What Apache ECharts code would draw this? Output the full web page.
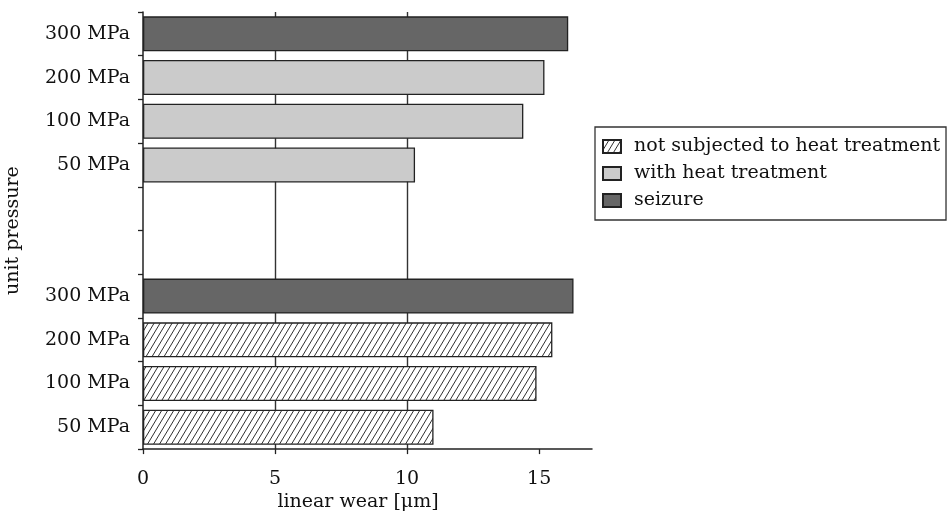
<!DOCTYPE html>
<html><head><meta charset="utf-8">
<script src="https://cdn.jsdelivr.net/npm/echarts@6/dist/echarts.min.js"></script>
<style>html,body{margin:0;padding:0;background:#fff}#c{width:952px;height:517px}</style>
</head><body><div id="c"></div>
<script>
// bottom-to-top categories
const yLabels = ['50 MPa','100 MPa','200 MPa','300 MPa','','','50 MPa','100 MPa','200 MPa','300 MPa'];
const xTicks = [0, 5, 10, 15];
const seriesNames = ['not subjected to heat treatment','with heat treatment','seizure'];
const notHeat  = [11.0, 14.9, 15.5, null, null, null, null, null, null, null];
const withHeat = [null, null, null, null, null, null, 10.3, 14.4, 15.2, null];
const seizure  = [null, null, null, 16.3, null, null, null, null, null, 16.1];

const FONT = 'DejaVu Serif';
const FS = 19;
function hatch(){
  const W = 6, H = 10;
  const c = document.createElement('canvas');
  c.width = W; c.height = H;
  const g = c.getContext('2d');
  g.fillStyle = '#fff'; g.fillRect(0,0,W,H);
  g.strokeStyle = '#1a1a1a'; g.lineWidth = 0.9;
  g.beginPath();
  g.moveTo(0,H); g.lineTo(W,0);
  g.moveTo(-W,H); g.lineTo(0,0);
  g.moveTo(W,H); g.lineTo(2*W,0);
  g.stroke();
  return c;
}
const chart = echarts.init(document.getElementById('c'), null, {renderer:'canvas'});
const border = {borderColor:'#222', borderWidth:1.3};
chart.setOption({
  animation:false,
  textStyle:{fontFamily:FONT},
  grid:{left:143, top:12, width:449, height:440, containLabel:false},
  legend:{
    orient:'vertical', left:595, top:127, width:352,
    padding:[9,6,9,7], itemGap:6, itemWidth:18, itemHeight:13, icon:'rect',
    borderColor:'#333', borderWidth:1.3,
    textStyle:{fontFamily:FONT, fontSize:FS, color:'#111', lineHeight:21, padding:[0,0,0,8]},
    data:seriesNames
  },
  xAxis:{
    type:'value', min:0, max:17, interval:5,
    name:'linear wear [μm]', nameLocation:'middle', nameGap:42,
    nameTextStyle:{fontFamily:FONT, fontSize:FS, color:'#111', padding:[0,19,0,0]},
    axisLine:{show:true, lineStyle:{color:'#222', width:1.5}},
    axisTick:{show:true, length:5, lineStyle:{color:'#222', width:1.3}, customValues:xTicks},
    axisLabel:{fontFamily:FONT, fontSize:FS, color:'#111', margin:20, customValues:xTicks},
    splitLine:{show:true, showMinLine:false, showMaxLine:false, lineStyle:{color:'#333', width:1.4}}
  },
  yAxis:{
    type:'category', data:yLabels.map((l,i)=>String(i)),
    boundaryGap:true,
    name:'unit pressure', nameLocation:'middle', nameGap:120,
    nameTextStyle:{fontFamily:FONT, fontSize:FS, color:'#111'},
    axisLine:{show:true, lineStyle:{color:'#222', width:1.5}},
    axisTick:{show:true, length:5, interval:0, lineStyle:{color:'#222', width:1.3}},
    axisLabel:{fontFamily:FONT, fontSize:FS, color:'#111', margin:13, interval:0,
      formatter:(v)=>yLabels[+v]},
    splitLine:{show:false}
  },
  series:[
    {name:seriesNames[0], type:'bar', data:notHeat, barWidth:35, barGap:'-100%',
      itemStyle:Object.assign({color:{image:hatch(), repeat:'repeat'}}, border)},
    {name:seriesNames[1], type:'bar', data:withHeat, barWidth:35, barGap:'-100%',
      itemStyle:Object.assign({color:'#cbcbcb'}, border)},
    {name:seriesNames[2], type:'bar', data:seizure, barWidth:35, barGap:'-100%',
      itemStyle:Object.assign({color:'#666666'}, border)}
  ]
});
</script></body></html>
